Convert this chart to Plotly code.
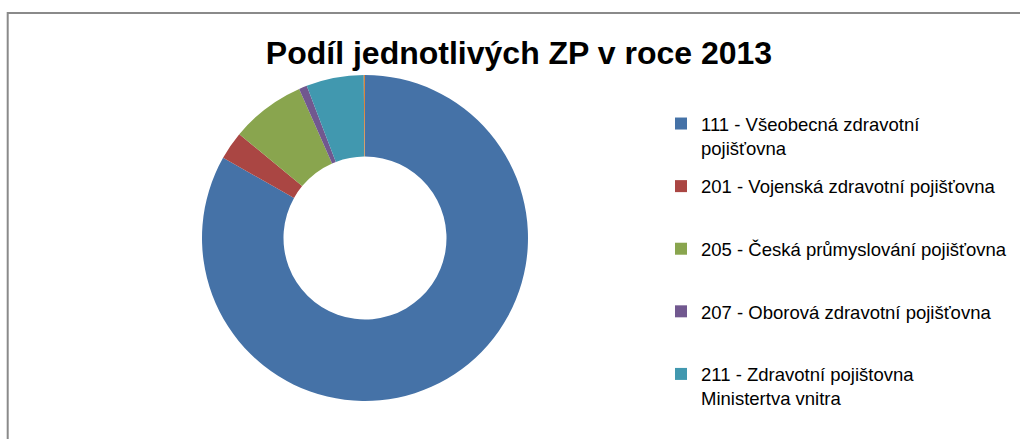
import plotly.graph_objects as go

# ---- data ----
categories = [
    "111 - Všeobecná zdravotní pojišťovna",
    "201 - Vojenská zdravotní pojišťovna",
    "205 - Česká průmyslování pojišťovna",
    "207 - Oborová zdravotní pojišťovna",
    "211 - Zdravotní pojištovna Ministertva vnitra",
    "Ostatní",
]
shares = [83.2, 2.8, 7.4, 0.8, 5.7, 0.12]
legend_labels = [
    "111 - Všeobecná zdravotní<br>pojišťovna",
    "201 - Vojenská zdravotní pojišťovna",
    "205 - Česká průmyslování pojišťovna",
    "207 - Oborová zdravotní pojišťovna",
    "211 - Zdravotní pojištovna<br>Ministertva vnitra",
]
colors = ["#4572A7", "#AA4643", "#89A54E", "#71588F", "#4198AF", "#DB843D"]
title_text = "Podíl jednotlivých ZP v roce 2013"

W, H = 1020, 439

fig = go.Figure()
fig.add_trace(go.Pie(
    labels=categories,
    values=shares,
    marker=dict(colors=colors, line=dict(width=0)),
    hole=0.5,
    sort=False,
    direction="clockwise",
    rotation=0,
    textinfo="none",
    hoverinfo="label+percent",
    showlegend=False,
    domain=dict(x=[202 / W, 528 / W], y=[1 - 401 / H, 1 - 75 / H]),
))

# legend entries (one per visible category)
for i, name in enumerate(legend_labels):
    if "<br>" not in name:
        name = name + "<br>\u00a0"
    fig.add_trace(go.Scatter(
        x=[None], y=[None], mode="markers", name=name,
        marker=dict(symbol="square", size=12, color=colors[i]),
        legendgroup=f"g{i}", showlegend=True, hoverinfo="skip",
    ))

fig.update_layout(
    width=W, height=H,
    margin=dict(l=0, r=0, t=0, b=0),
    paper_bgcolor="white", plot_bgcolor="white",
    font=dict(family="Liberation Sans, Arial, sans-serif", color="#000000"),
    title=dict(text=title_text, x=519 / W, xanchor="center", y=1 - 53 / H, yanchor="middle",
               font=dict(size=32, family="Liberation Sans, Arial, sans-serif", color="#000000", weight="bold")),
    xaxis=dict(visible=False), yaxis=dict(visible=False),
    legend=dict(x=661 / W, xanchor="left", y=1 - 105 / H, yanchor="top",
                font=dict(size=18.5, color="#000000"), valign="top",
                tracegroupgap=11.5, traceorder="grouped", bgcolor="rgba(0,0,0,0)"),
    showlegend=True,
    shapes=[dict(type="rect", xref="paper", yref="paper",
                 x0=7.7 / W, x1=1.02, y0=-0.05, y1=1 - 13 / H,
                 line=dict(color="#8a8a8a", width=2), fillcolor="rgba(0,0,0,0)", layer="below")],
)

fig.write_html("out.html", config={"displayModeBar": False},
               post_script="document.body.style.margin='0';")
